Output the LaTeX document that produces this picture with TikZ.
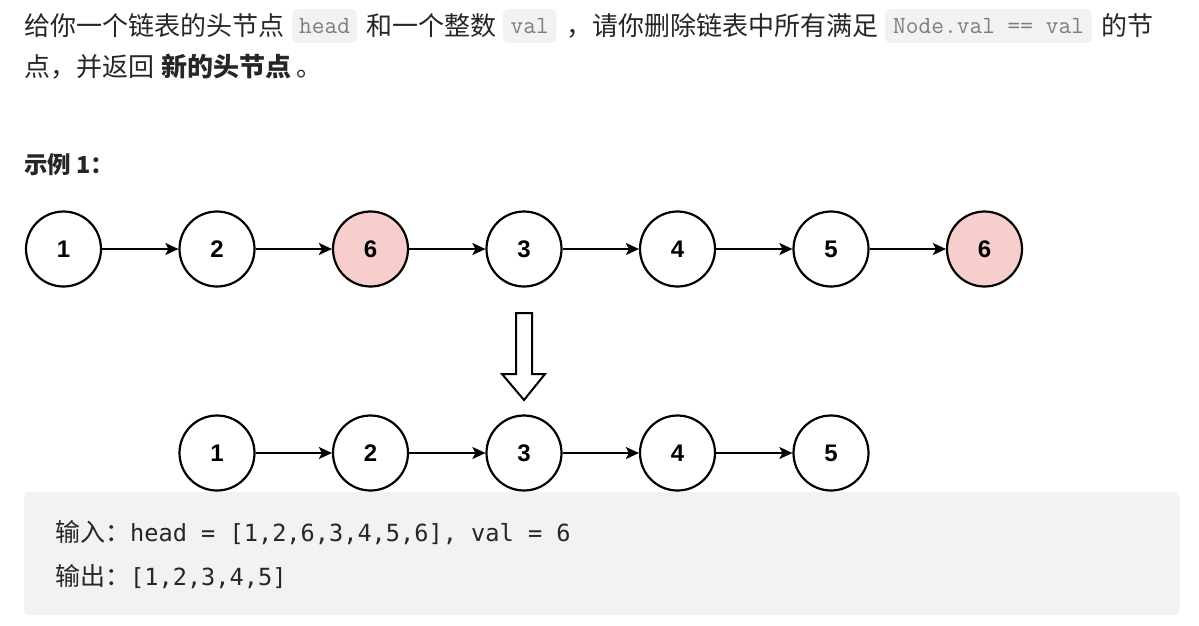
\documentclass[tikz,border=0pt]{standalone}
\usepackage{fontspec}
\setmainfont{Noto Sans CJK SC}
\newfontfamily\numfont{Liberation Sans}
\newfontfamily\codefont{DejaVu Sans Mono}
\usetikzlibrary{arrows.meta,positioning}
\definecolor{TextClr}{RGB}{38,38,38}
\definecolor{CodeBg}{RGB}{242,242,242}
\definecolor{CodeClr}{RGB}{125,125,125}
\definecolor{DelClr}{RGB}{248,206,204}

\tikzset{
  txt/.style={anchor=base west,inner sep=0pt,text=TextClr,font=\fontsize{26}{30}\selectfont},
  inlinecode/.style={anchor=west,fill=CodeBg,rounded corners=5pt,minimum height=34pt,
    inner xsep=7pt,inner ysep=0pt,text=CodeClr,font=\ttfamily\fontsize{24.7}{28}\selectfont},
  listnode/.style={circle,draw,line width=2.2pt,minimum size=75pt,inner sep=0pt,
    font=\numfont\bfseries\fontsize{24}{24}\selectfont},
  delnode/.style={listnode,fill=DelClr},
  link/.style={-{Stealth[length=13pt,width=12pt,inset=3pt]},line width=1.6pt},
  codeline/.style={anchor=base west,inner sep=0pt,text=black!85}
}

\begin{document}
\begin{tikzpicture}[x=1pt,y=-1pt]
\useasboundingbox (0,0) rectangle (1199,625);

% problem statement
\node[txt] (t1) at (24,35.9) {给你一个链表的头节点};
\node[inlinecode] (c1) at (292,26) {head};
\node[txt] (t2) at (366,35.9) {和一个整数};
\node[inlinecode,inner xsep=7.5pt] (c2) at (503,26) {val};
\node[txt] (t3) at (566,35.9) {，请你删除链表中所有满足};
\node[inlinecode,inner xsep=8pt] (c3) at (885,26) {Node.val == val};
\node[txt] (t4) at (1101,35.9) {的节};

\node[txt] (t5) at (24,76.9) {点，并返回};
\node[txt,font=\bfseries\fontsize{26}{30}\selectfont] (t6) at (161,76.9) {新的头节点};
\node[txt] (t7) at (296,76.9) {。};

\node[txt,font=\bfseries\fontsize{23.5}{27}\selectfont] (ex) at (24,173.9) {示例 1：};

% original list
\node[listnode] (a1) at (63.5,249) {1};
\node[listnode] (a2) at (217,249) {2};
\node[delnode]  (a3) at (370.5,249) {6};
\node[listnode] (a4) at (524,249) {3};
\node[listnode] (a5) at (677.5,249) {4};
\node[listnode] (a6) at (831,249) {5};
\node[delnode]  (a7) at (984.5,249) {6};

\draw[link] (a1) -- (a2);
\draw[link] (a2) -- (a3);
\draw[link] (a3) -- (a4);
\draw[link] (a4) -- (a5);
\draw[link] (a5) -- (a6);
\draw[link] (a6) -- (a7);

% hollow arrow
\draw[line width=2pt,fill=white,line join=miter]
  (516,313) -- (532,313) -- (532,374) -- (545,374) -- (524,400)
  -- (502,374) -- (516,374) -- cycle;

% result list
\node[listnode] (b1) at (217,453) {1};
\node[listnode] (b2) at (370.5,453) {2};
\node[listnode] (b3) at (524,453) {3};
\node[listnode] (b4) at (677.5,453) {4};
\node[listnode] (b5) at (831,453) {5};

\draw[link] (b1) -- (b2);
\draw[link] (b2) -- (b3);
\draw[link] (b3) -- (b4);
\draw[link] (b4) -- (b5);

% input / output block
\fill[CodeBg,rounded corners=5pt] (24,492) rectangle (1180,615);
\node[codeline] (in) at (55,541)
  {{\fontsize{25}{30}\selectfont 输入：}{\codefont\fontsize{23.6}{28}\selectfont head = [1,2,6,3,4,5,6], val = 6}};
\node[codeline] (out) at (55,585)
  {{\fontsize{25}{30}\selectfont 输出：}{\codefont\fontsize{23.6}{28}\selectfont [1,2,3,4,5]}};

\end{tikzpicture}
\end{document}
